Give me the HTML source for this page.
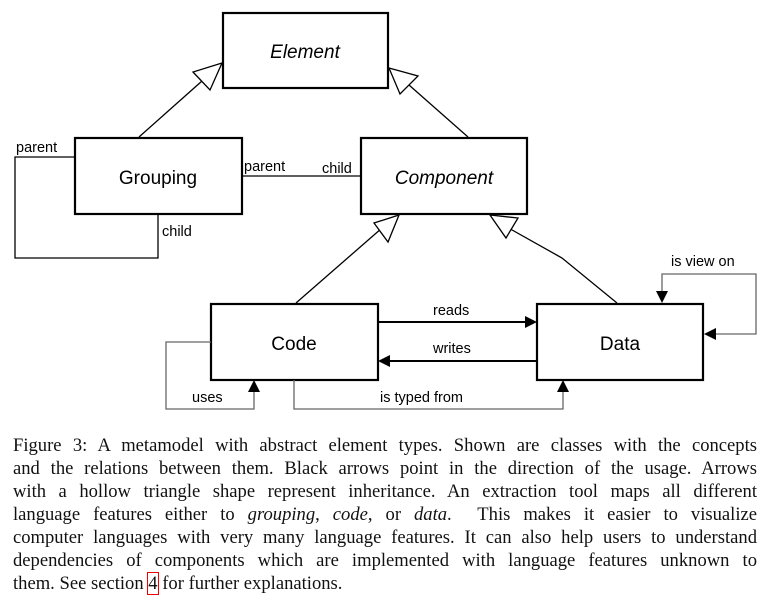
<!DOCTYPE html>
<html><head><meta charset="utf-8"><style>
html,body{margin:0;padding:0;background:#fff;width:769px;height:606px;overflow:hidden}
svg{position:absolute;left:0;top:0}
.cap{position:absolute;left:13px;top:434px;width:744px;font-family:"Liberation Serif",serif;font-size:18.6px;line-height:23px;text-align:justify;color:#111}
.cap .l{display:block;text-align-last:justify;white-space:nowrap}
</style></head><body>
<svg width="769" height="420" viewBox="0 0 769 420" font-family="Liberation Sans, sans-serif">
<g fill="none" stroke="#000" stroke-width="2.2">
<rect x="223" y="13" width="165" height="75"/>
<rect x="75" y="138" width="167" height="76"/>
<rect x="361" y="138" width="166" height="76"/>
<rect x="211" y="304" width="167" height="76"/>
<rect x="537" y="304" width="166" height="76"/>
</g>
<g fill="none" stroke="#000" stroke-width="1.3">
<line x1="139" y1="137" x2="202" y2="81"/>
<line x1="468" y1="137" x2="409" y2="85"/>
<line x1="296" y1="303" x2="382" y2="228"/>
<path d="M617 303 L562 258 L505 226"/>
<line x1="242" y1="176" x2="361" y2="176"/>
<polygon points="222,63 193,72 210,90" fill="#fff"/>
<polygon points="389,68 418,76 400,94" fill="#fff"/>
<polygon points="399,215 374,223 388,242" fill="#fff"/>
<polygon points="490,215 518,218 506,238" fill="#fff"/>
<path d="M75 157 H15 V258 H158 V214"/>
</g>
<g fill="none" stroke="#000" stroke-width="2">
<line x1="378" y1="322" x2="528" y2="322"/>
<line x1="537" y1="361" x2="387" y2="361"/>
</g>
<polygon points="537,322 525,316 525,328" fill="#000"/>
<polygon points="378,361 390,355 390,367" fill="#000"/>
<g fill="none" stroke="#666" stroke-width="1.3">
<path d="M211 342 H166 V409 H254 V388"/>
<path d="M294 380 V409 H563 V388"/>
<path d="M662 292 V274 H756 V334 H713"/>
</g>
<polygon points="254,380 248,392 260,392" fill="#000"/>
<polygon points="563,380 557,392 569,392" fill="#000"/>
<polygon points="662,303 656,291 668,291" fill="#000"/>
<polygon points="704,334 716,328 716,340" fill="#000"/>
<g font-size="19" text-anchor="middle" fill="#000">
<text x="305" y="58" font-style="italic">Element</text>
<text x="158" y="184">Grouping</text>
<text x="444" y="184" font-style="italic">Component</text>
<text x="294" y="350">Code</text>
<text x="620" y="350">Data</text>
</g>
<g font-size="14.5" fill="#000">
<text x="16" y="152">parent</text>
<text x="162" y="236">child</text>
<text x="244" y="171">parent</text>
<text x="322" y="173">child</text>
<text x="433" y="315">reads</text>
<text x="433" y="353">writes</text>
<text x="192" y="402">uses</text>
<text x="380" y="402">is typed from</text>
<text x="671" y="266">is view on</text>
</g>
</svg>
<div class="cap">
<span class="l">Figure 3: A metamodel with abstract element types. Shown are classes with the concepts</span>
<span class="l">and the relations between them. Black arrows point in the direction of the usage. Arrows</span>
<span class="l">with a hollow triangle shape represent inheritance. An extraction tool maps all different</span>
<span class="l">language features either to <i>grouping</i>, <i>code</i>, or <i>data</i>.&nbsp; This makes it easier to visualize</span>
<span class="l">computer languages with very many language features. It can also help users to understand</span>
<span class="l">dependencies of components which are implemented with language features unknown to</span>
<span style="display:block">them. See section <span style="outline:1px solid #e00;outline-offset:0">4</span> for further explanations.</span>
</div>
</body></html>
